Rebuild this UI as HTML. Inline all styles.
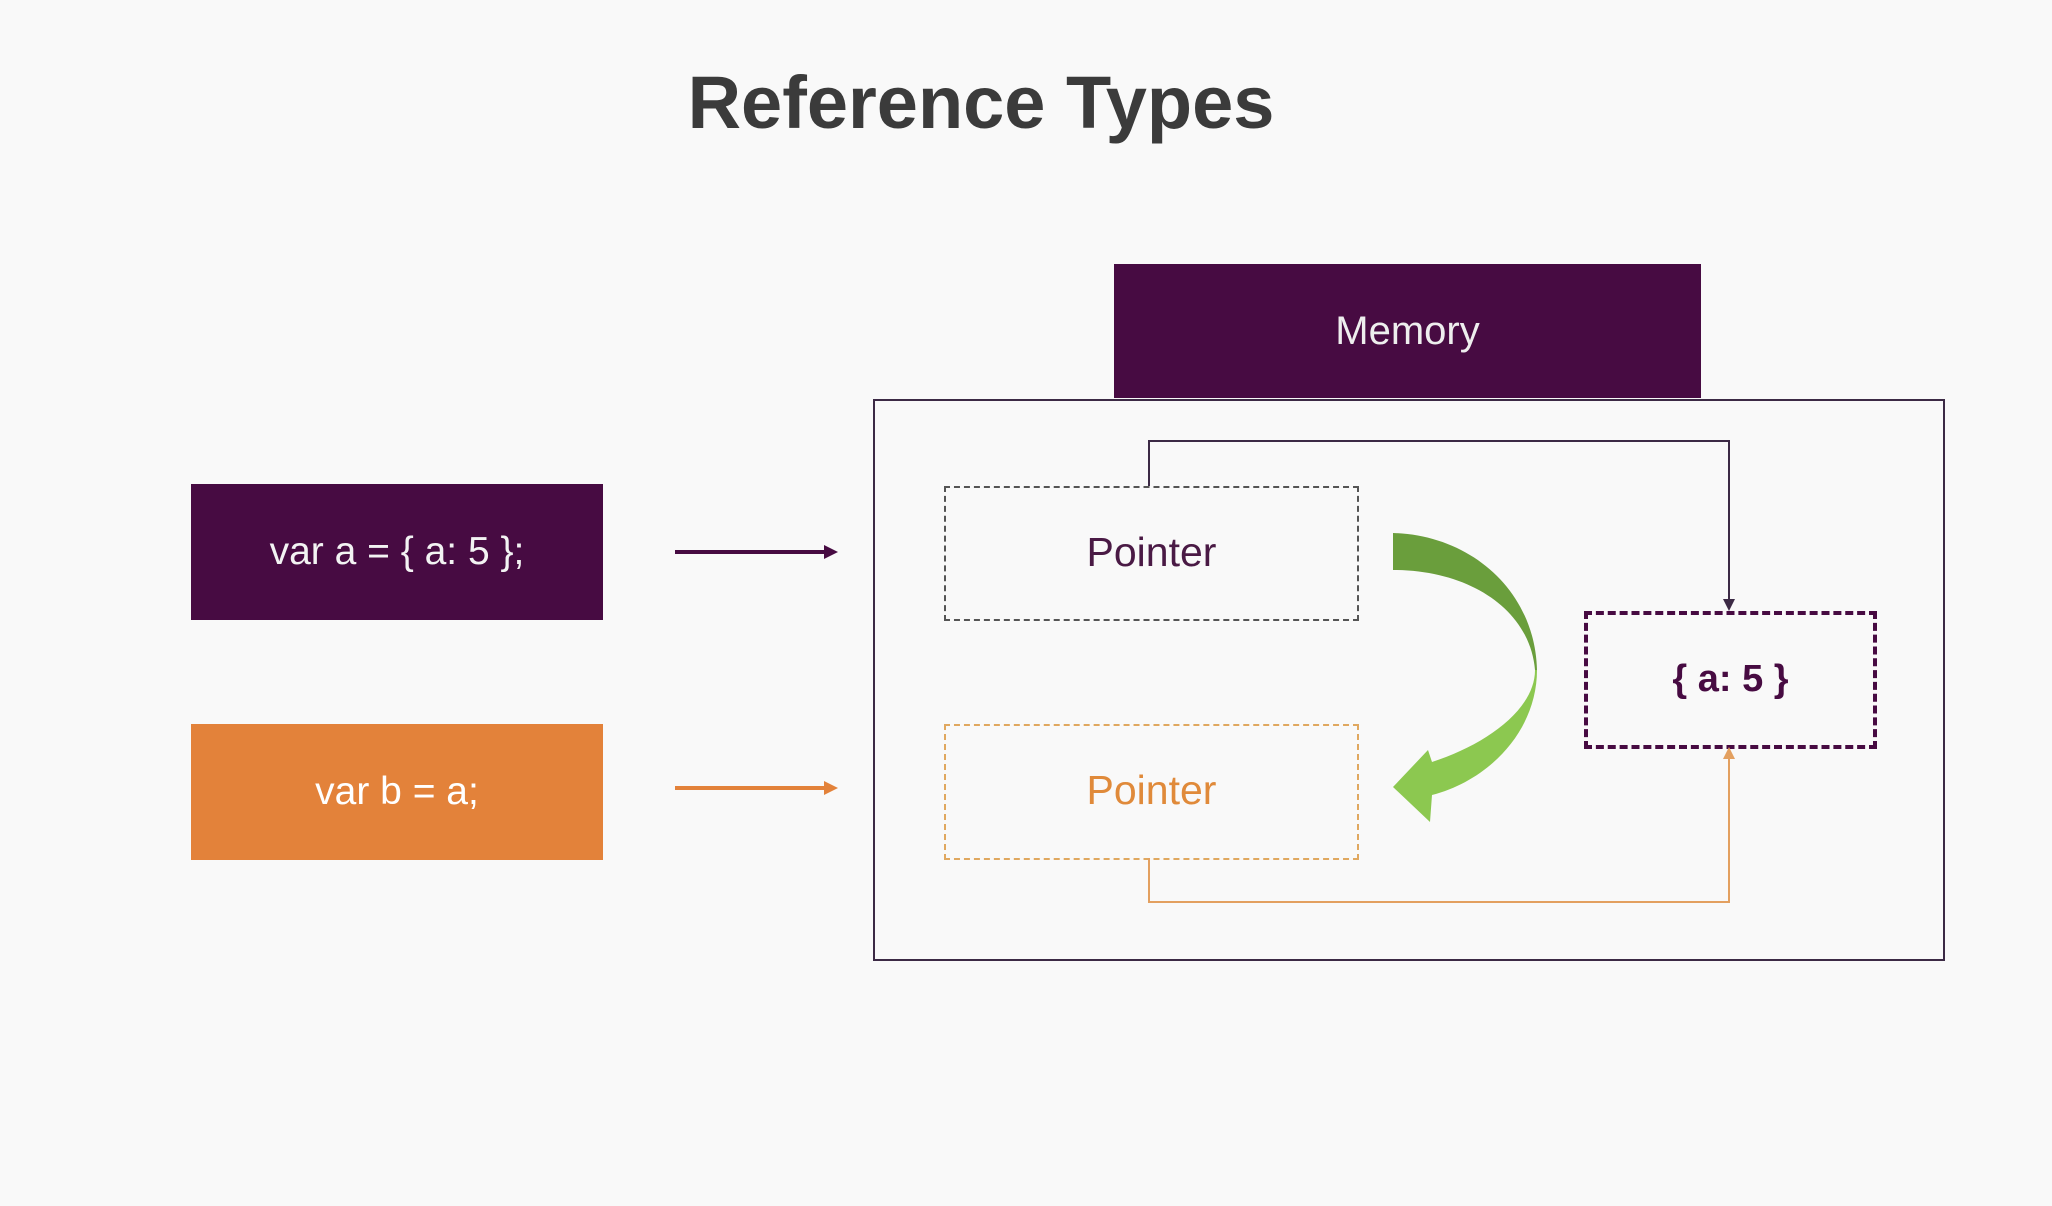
<!DOCTYPE html>
<html><head><meta charset="utf-8"><style>
html,body{margin:0;padding:0;}
body{width:2052px;height:1206px;background:#f9f9f9;position:relative;overflow:hidden;font-family:"Liberation Sans",sans-serif;}
.abs{position:absolute;}
</style></head><body>
<div class="abs" style="left:0;top:60px;width:1962px;text-align:center;font-size:74px;font-weight:bold;color:#3b3b3b;">Reference Types</div>
<div class="abs" style="left:1114px;top:264px;width:587px;height:134px;background:#470b42;color:#eee;font-size:40px;line-height:134px;text-align:center;">Memory</div>
<div class="abs" style="left:873px;top:399px;width:1068px;height:558px;border:2px solid #3c2a45;"></div>
<div class="abs" style="left:191px;top:484px;width:412px;height:136px;background:#470b42;color:#f3f3f3;font-size:39px;line-height:136px;text-align:center;">var a = { a: 5 };</div>
<div class="abs" style="left:191px;top:724px;width:412px;height:136px;background:#e3823a;color:#fff;font-size:39px;line-height:136px;text-align:center;">var b = a;</div>
<div class="abs" style="left:944px;top:486px;width:411px;height:131px;border:2px dashed #555;color:#4a1a45;font-size:41px;line-height:128px;text-align:center;">Pointer</div>
<div class="abs" style="left:944px;top:724px;width:411px;height:132px;border:2px dashed #e0a860;color:#e08a3a;font-size:41px;line-height:129px;text-align:center;">Pointer</div>
<div class="abs" style="left:1584px;top:611px;width:285px;height:130px;border:4px dashed #470b42;color:#470b42;font-size:38px;font-weight:bold;line-height:128px;text-align:center;">{ a: 5 }</div>
<svg class="abs" style="left:0;top:0" width="2052" height="1206">
<line x1="675" y1="552" x2="828" y2="552" stroke="#470b42" stroke-width="4"/>
<polygon points="838,552 824,545 824,559" fill="#470b42"/>
<line x1="675" y1="788" x2="828" y2="788" stroke="#e3823a" stroke-width="4"/>
<polygon points="838,788 824,781 824,795" fill="#e3823a"/>
<polyline points="1149,486 1149,441 1729,441 1729,603" fill="none" stroke="#3c2a45" stroke-width="2"/>
<polygon points="1729,611 1723,599 1735,599" fill="#3c2a45"/>
<polyline points="1149,858 1149,902 1729,902 1729,755" fill="none" stroke="#e3a060" stroke-width="2"/>
<polygon points="1729,747 1723,759 1735,759" fill="#e3a060"/>
<path d="M1393,533 C1470,535 1535,590 1537,670 L1535,670 C1530,610 1470,570 1393,570 Z" fill="#6a9e3c"/>
<path d="M1537,670 C1537,730 1490,780 1432,795 L1430,822 L1393,787 L1428,750 L1432,762 C1485,745 1535,710 1535,670 Z" fill="#8cc850"/>
</svg>
</body></html>
